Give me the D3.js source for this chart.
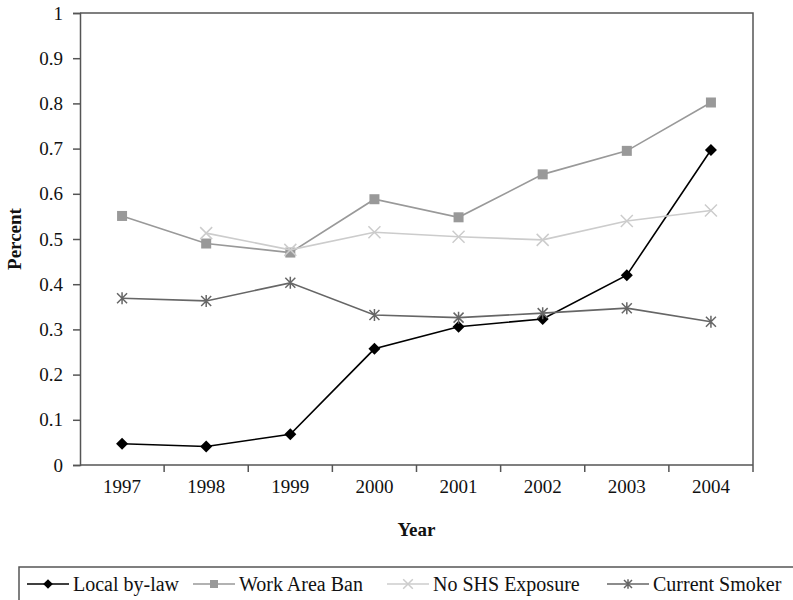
<!DOCTYPE html>
<html>
<head>
<meta charset="utf-8">
<script src="https://cdn.jsdelivr.net/npm/d3@7"></script>
<style>
  body { margin: 0; background: #fff; }
  svg text { font-family: "Liberation Serif", "Times New Roman", serif; fill: #111; }
</style>
</head>
<body>
<div id="chart"></div>
<script>
// data
const years = ["1997", "1998", "1999", "2000", "2001", "2002", "2003", "2004"];
const localBylaw = [0.047, 0.041, 0.068, 0.257, 0.306, 0.323, 0.420, 0.697];
const workAreaBan = [0.551, 0.490, 0.470, 0.588, 0.548, 0.643, 0.695, 0.802];
const noShsExposure = [null, 0.513, 0.476, 0.515, 0.505, 0.498, 0.540, 0.563];
const currentSmoker = [0.369, 0.363, 0.403, 0.332, 0.326, 0.336, 0.347, 0.317];
const yTicks = [0, 0.1, 0.2, 0.3, 0.4, 0.5, 0.6, 0.7, 0.8, 0.9, 1];

const series = [
    { name: "Local by-law", values: localBylaw, color: "#000", marker: "diamond" },
    { name: "Work Area Ban", values: workAreaBan, color: "#999", marker: "square" },
    { name: "No SHS Exposure", values: noShsExposure, color: "#ccc", marker: "cross" },
    { name: "Current Smoker", values: currentSmoker, color: "#666", marker: "star" }
];

const W = 793, H = 600;
const margin = { top: 13, right: 40, bottom: 135, left: 80 },
    width = W - margin.left - margin.right,
    height = H - margin.top - margin.bottom;

const svg = d3.select("#chart").append("svg")
    .attr("width", W)
    .attr("height", H);

const g = svg.append("g")
    .attr("transform", `translate(${margin.left},${margin.top})`);

const x = d3.scaleBand().domain(years).range([0, width]);
const y = d3.scaleLinear().domain([0, 1]).range([height, 0]);

const axisColor = "#555";

// frame top + right
g.append("path")
    .attr("d", `M0,0H${width}V${height}`)
    .attr("fill", "none")
    .attr("stroke", axisColor)
    .attr("stroke-width", 1.5);

// y axis
const yAxis = g.append("g")
    .call(d3.axisLeft(y).tickValues(yTicks).tickFormat(d => d3.format("")(+d.toFixed(1))).tickSize(7).tickPadding(10));
yAxis.select(".domain").attr("stroke", axisColor).attr("stroke-width", 1.5);
yAxis.selectAll(".tick line").attr("stroke", axisColor).attr("stroke-width", 1.5);
yAxis.selectAll("text").attr("font-size", 19).attr("font-family", "Liberation Serif").attr("fill", "#111");

// x axis, ticks sit between the categories
const xAxis = g.append("g").attr("transform", `translate(0,${height})`);
xAxis.append("line")
    .attr("x1", 0).attr("x2", width)
    .attr("stroke", axisColor).attr("stroke-width", 1.5);
xAxis.selectAll(".xt")
    .data(years.slice(1).concat(["end"]))
    .join("line")
    .attr("class", "xt")
    .attr("x1", (d, i) => x(years[0]) + x.bandwidth() * (i + 1))
    .attr("x2", (d, i) => x(years[0]) + x.bandwidth() * (i + 1))
    .attr("y1", 0).attr("y2", 7)
    .attr("stroke", axisColor).attr("stroke-width", 1.5);
xAxis.selectAll(".xl")
    .data(years)
    .join("text")
    .attr("class", "xl")
    .attr("x", d => x(d) + x.bandwidth() / 2)
    .attr("y", 28)
    .attr("text-anchor", "middle")
    .attr("font-size", 19)
    .text(d => d);

// axis titles
svg.append("text")
    .attr("x", margin.left + width / 2)
    .attr("y", 536)
    .attr("text-anchor", "middle")
    .attr("font-size", 19)
    .attr("font-weight", "bold")
    .text("Year");

svg.append("text")
    .attr("transform", `translate(21,${margin.top + height / 2}) rotate(-90)`)
    .attr("text-anchor", "middle")
    .attr("font-size", 19)
    .attr("font-weight", "bold")
    .text("Percent");

// marker drawing
function drawMarker(sel, type, color, k = 1) {
    if (type === "diamond") {
        sel.append("path").attr("d", `M0,${-6 * k}L${6 * k},0L0,${6 * k}L${-6 * k},0Z`).attr("fill", color);
    } else if (type === "square") {
        sel.append("rect").attr("x", -5 * k).attr("y", -5 * k).attr("width", 10 * k).attr("height", 10 * k).attr("fill", color);
    } else if (type === "cross") {
        sel.append("path").attr("d", `M${-6 * k},${-6 * k}L${6 * k},${6 * k}M${-6 * k},${6 * k}L${6 * k},${-6 * k}`)
            .attr("stroke", color).attr("stroke-width", 1.5).attr("fill", "none");
    } else if (type === "star") {
        sel.append("path").attr("d", `M${-5 * k},${-5 * k}L${5 * k},${5 * k}M${-5 * k},${5 * k}L${5 * k},${-5 * k}M0,${-6 * k}V${6 * k}`)
            .attr("stroke", color).attr("stroke-width", 1.5).attr("fill", "none");
    }
}

const cx = i => x(years[i]) + x.bandwidth() / 2;
const line = d3.line()
    .defined(d => d != null)
    .x((d, i) => cx(i))
    .y(d => y(d));

series.forEach(s => {
    g.append("path")
        .datum(s.values)
        .attr("fill", "none")
        .attr("stroke", s.color)
        .attr("stroke-width", 1.6)
        .attr("d", line);
    s.values.forEach((v, i) => {
        if (v == null) return;
        const m = g.append("g").attr("transform", `translate(${cx(i)},${y(v)})`);
        drawMarker(m, s.marker, s.color);
    });
});

// legend
const legend = svg.append("g");
legend.append("rect")
    .attr("x", 19).attr("y", 567)
    .attr("width", 800).attr("height", 60)
    .attr("fill", "none")
    .attr("stroke", axisColor)
    .attr("stroke-width", 1.5);

const legendX = [27, 193, 387, 607];
series.forEach((s, i) => {
    const lg = legend.append("g").attr("transform", `translate(${legendX[i]},584)`);
    lg.append("line").attr("x1", 0).attr("x2", 42)
        .attr("stroke", s.color).attr("stroke-width", 1.6);
    drawMarker(lg.append("g").attr("transform", "translate(21,0)"), s.marker, s.color, 0.8);
    lg.append("text")
        .attr("x", 46)
        .attr("dy", "0.35em")
        .attr("font-size", 20)
        .text(s.name);
});
</script>
</body>
</html>
